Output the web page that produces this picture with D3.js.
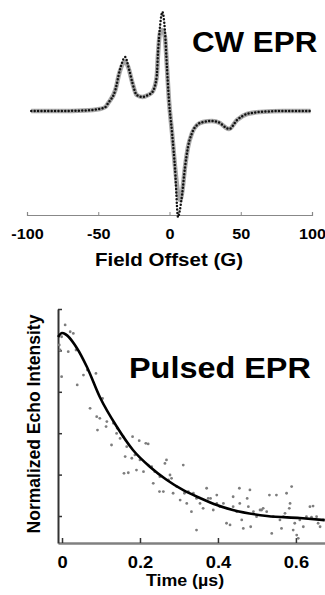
<!DOCTYPE html>
<html>
<head>
<meta charset="utf-8">
<script src="https://cdn.jsdelivr.net/npm/d3@7"></script>
<style>
  body { margin: 0; background: #fff; }
  svg { display: block; }
  text { font-family: "Liberation Sans", Arial, Helvetica, sans-serif; font-weight: bold; fill: #000; }
</style>
</head>
<body>
<svg id="chart" width="325" height="595"></svg>
<script>
// ---- CW EPR spectrum (field offset in G, derivative signal in a.u.)
const cwField = [-97, -77, -60, -49, -45, -43, -38, -35, -31, -29, -26, -23, -19, -15, -12, -9, -8, -6.7, -5, -3.2, -1.8, -0.4, 1.8, 3.9, 6, 7.4, 8.8, 10.9, 13, 15.8, 19.3, 23.5, 29.8, 35.4, 38.9, 41.8, 47.4, 54.4, 63.5, 80, 99];
const cwSim = [0, 0, 0.005, 0.02, 0.04, 0.08, 0.21, 0.39, 0.49, 0.44, 0.28, 0.16, 0.14, 0.16, 0.19, 0.34, 0.58, 0.78, 0.81, 0.74, 0.44, 0.11, -0.22, -0.56, -0.82, -0.89, -0.82, -0.56, -0.36, -0.22, -0.14, -0.11, -0.10, -0.12, -0.16, -0.18, -0.09, -0.03, -0.01, 0, 0];
const cwExp = [0, 0, 0.005, 0.02, 0.04, 0.08, 0.21, 0.40, 0.54, 0.45, 0.28, 0.16, 0.14, 0.16, 0.19, 0.34, 0.60, 0.84, 0.99, 0.80, 0.44, 0.11, -0.22, -0.58, -1.06, -0.98, -0.84, -0.56, -0.36, -0.22, -0.14, -0.11, -0.10, -0.12, -0.16, -0.18, -0.09, -0.03, -0.01, 0, 0];
const cwTicks = [-100, -50, 0, 50, 100];

// ---- Pulsed EPR echo decay (time in us, normalized intensity)
const fitTime = [-0.010, 0, 0.038, 0.064, 0.097, 0.141, 0.182, 0.226, 0.269, 0.310, 0.354, 0.397, 0.438, 0.526, 0.610, 0.674];
const fitValue = [0.865, 0.884, 0.812, 0.720, 0.575, 0.430, 0.319, 0.237, 0.174, 0.126, 0.087, 0.053, 0.029, 0.0, -0.01, -0.02];
const echoTime = [0.008, 0.021, -0.001, 0.029, -0.007, -0.005, 0.016, 0.036, -0.001, 0.039, 0.065, 0.055, 0.087, 0.072, 0.089, 0.104, 0.091, 0.097, 0.113, 0.115,
  0.127, 0.132, 0.140, 0.142, 0.149, 0.157, 0.162, 0.166, 0.181, 0.187, 0.159, 0.170, 0.191, 0.198, 0.215, 0.221, 0.209, 0.221, 0.230, 0.234,
  0.250, 0.260, 0.264, 0.268, 0.277, 0.285, 0.294, 0.281, 0.303, 0.311, 0.314, 0.320, 0.332, 0.337, 0.345, 0.354, 0.362, 0.371, 0.375, 0.381,
  0.388, 0.397, 0.405, 0.414, 0.422, 0.431, 0.439, 0.448, 0.455, 0.456, 0.461, 0.465, 0.475, 0.478, 0.482, 0.484, 0.491, 0.499, 0.508, 0.516,
  0.525, 0.532, 0.538, 0.542, 0.550, 0.559, 0.563, 0.572, 0.576, 0.583, 0.585, 0.589, 0.593, 0.597, 0.602, 0.606, 0.610, 0.619, 0.627, 0.636,
  0.644, 0.653, 0.657, 0.662, 0.670, 0.179, 0.200, 0.238, 0.251, 0.273, 0.324, 0.345, 0.397, 0.439, 0.512, 0.568, 0.640];
const echoValue = [0.923, 0.890, 0.866, 0.882, 0.826, 0.802, 0.794, 0.802, 0.673, 0.633, 0.705, 0.681, 0.689, 0.520, 0.480, 0.568, 0.415, 0.472, 0.432, 0.456,
  0.343, 0.448, 0.399, 0.424, 0.375, 0.383, 0.287, 0.335, 0.383, 0.295, 0.206, 0.209, 0.222, 0.364, 0.351, 0.348, 0.214, 0.246, 0.238, 0.158,
  0.118, 0.118, 0.254, 0.271, 0.198, 0.110, 0.142, 0.182, 0.077, 0.246, 0.110, 0.061, 0.021, 0.110, -0.068, 0.061, 0.037, 0.134, 0.085, 0.085,
  0.029, 0.101, 0.045, 0.061, -0.035, -0.043, 0.093, 0.021, 0.134, 0.061, -0.019, -0.060, 0.085, 0.045, 0.126, -0.052, 0.021, -0.003, 0.029, 0.037,
  0.021, 0.101, -0.084, -0.003, 0.101, -0.019, -0.060, 0.013, 0.110, 0.037, 0.061, 0.142, -0.068, -0.035, -0.092, -0.108, -0.019, -0.052, -0.003, 0.045,
  0.048, -0.003, -0.035, -0.052, -0.019, 0.279, 0.271, 0.214, 0.190, 0.174, 0.118, 0.085, 0.061, 0.045, 0.029, -0.003, -0.006];
const echoTicksX = [0, 0.2, 0.4, 0.6];
const echoTicksY = [0, 0.2, 0.4, 0.6, 0.8, 1.0];

const stretch = "scale(1.08,1)";
const svg = d3.select("#chart");

// ================= CW EPR =================
const xCW = d3.scaleLinear().domain([-100, 100]).range([27, 312]);
const yCW = d3.scaleLinear().domain([-1.05, 1.05]).range([216, 6]);

const cwAxis = svg.append("g")
  .attr("transform", "translate(0,215)")
  .call(d3.axisBottom(xCW).tickValues(cwTicks).tickSize(-3).tickPadding(13).tickFormat(d3.format("d")));
cwAxis.select(".domain").attr("stroke", "#888").attr("stroke-width", 1.2);
cwAxis.selectAll(".tick line").attr("stroke", "#888");
cwAxis.selectAll(".tick text")
  .attr("font-size", 15).attr("fill", "#000")
  .attr("font-family", "Liberation Sans, Arial, sans-serif").attr("font-weight", "bold")
  .attr("transform", stretch)
  .text(d => d < 0 ? "-" + Math.abs(d) : d);

const cwLine = d3.line()
  .x((d, i) => xCW(cwField[i]))
  .curve(d3.curveMonotoneX);

// simulated spectrum: thick light grey line
svg.append("path")
  .datum(cwSim)
  .attr("d", cwLine.y(d => yCW(d)))
  .attr("fill", "none")
  .attr("stroke", "#a8a8a8")
  .attr("stroke-width", 4.5);

// experimental spectrum: black dots
svg.append("path")
  .datum(cwExp)
  .attr("d", cwLine.y(d => yCW(d)))
  .attr("fill", "none")
  .attr("stroke", "#111")
  .attr("stroke-width", 2.5)
  .attr("stroke-linecap", "round")
  .attr("stroke-dasharray", "0,3.4");

svg.append("text")
  .attr("transform", "translate(192,52) " + stretch)
  .attr("font-size", 29)
  .text("CW EPR");

svg.append("text")
  .attr("transform", "translate(169,266) " + stretch)
  .attr("text-anchor", "middle")
  .attr("font-size", 19)
  .text("Field Offset (G)");

// ================= Pulsed EPR =================
const xP = d3.scaleLinear().domain([-0.0103, 0.69]).range([58, 331]);
const yP = d3.scaleLinear().domain([-0.1304, 1.0]).range([543, 309]);

const pxAxis = svg.append("g")
  .attr("transform", "translate(0,543)")
  .call(d3.axisBottom(xP).tickValues(echoTicksX).tickSize(-5).tickPadding(13).tickSizeOuter(0).tickFormat(d => d === 0 ? "0" : d3.format(".1f")(d)));
pxAxis.select(".domain").attr("stroke", "#808080").attr("stroke-width", 2.5);
pxAxis.selectAll(".tick line").attr("stroke", "#333").attr("stroke-width", 1.5);
pxAxis.selectAll(".tick text")
  .attr("font-size", 17).attr("fill", "#000")
  .attr("font-family", "Liberation Sans, Arial, sans-serif").attr("font-weight", "bold")
  .attr("transform", stretch);

const pyAxis = svg.append("g")
  .attr("transform", "translate(58,0)")
  .call(d3.axisLeft(yP).tickValues(echoTicksY).tickSize(-4).tickSizeOuter(0).tickFormat(""));
pyAxis.select(".domain").attr("stroke", "#333").attr("stroke-width", 2);
pyAxis.selectAll(".tick line").attr("stroke", "#333").attr("stroke-width", 1.5);

svg.append("g")
  .selectAll("circle")
  .data(echoTime)
  .join("circle")
  .attr("cx", d => xP(d))
  .attr("cy", (d, i) => yP(echoValue[i]))
  .attr("r", 1.4)
  .attr("fill", "#7d7d7d");

svg.append("path")
  .datum(fitTime)
  .attr("d", d3.line()
    .x(d => xP(d))
    .y((d, i) => yP(fitValue[i]))
    .curve(d3.curveMonotoneX))
  .attr("fill", "none")
  .attr("stroke", "#000")
  .attr("stroke-width", 2.6);

svg.append("text")
  .attr("transform", "translate(129,378) " + stretch)
  .attr("font-size", 30)
  .text("Pulsed EPR");

svg.append("text")
  .attr("transform", "translate(185,586) " + stretch)
  .attr("text-anchor", "middle")
  .attr("font-size", 16.5)
  .text("Time (µs)");

svg.append("text")
  .attr("transform", "translate(39.5,424) rotate(-90)")
  .attr("text-anchor", "middle")
  .attr("font-size", 17.5)
  .text("Normalized Echo Intensity");
</script>
</body>
</html>
